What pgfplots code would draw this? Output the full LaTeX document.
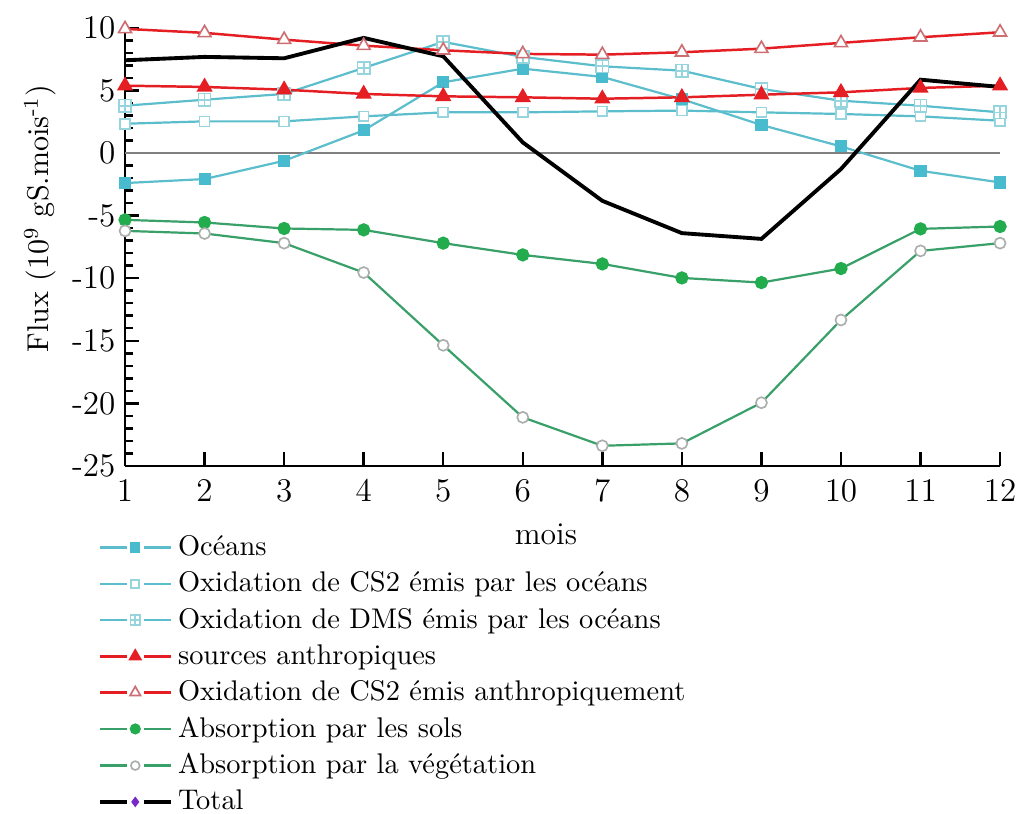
\documentclass[border=0pt]{standalone}
\usepackage{fontspec}
\usepackage{pgfplots}
\pgfplotsset{compat=1.18}
\usetikzlibrary{plotmarks}
\definecolor{ocean}{RGB}{92,190,204}
\definecolor{oceanfill}{RGB}{72,188,206}
\definecolor{oceanedge}{RGB}{150,212,222}
\definecolor{anthro}{RGB}{228,30,34}
\definecolor{anthroedge}{RGB}{205,110,115}
\definecolor{veg}{RGB}{58,160,105}
\definecolor{vegfill}{RGB}{34,172,78}
\definecolor{vegedge}{RGB}{170,175,172}
\definecolor{totdot}{RGB}{120,40,200}
\pgfdeclareplotmark{boxplus}{%
  \pgfpathrectangle{\pgfpoint{-\pgfplotmarksize}{-\pgfplotmarksize}}{\pgfpoint{2\pgfplotmarksize}{2\pgfplotmarksize}}%
  \pgfusepathqfillstroke
  \pgfpathmoveto{\pgfpoint{-\pgfplotmarksize}{0pt}}\pgfpathlineto{\pgfpoint{\pgfplotmarksize}{0pt}}%
  \pgfpathmoveto{\pgfpoint{0pt}{-\pgfplotmarksize}}\pgfpathlineto{\pgfpoint{0pt}{\pgfplotmarksize}}%
  \pgfusepathqstroke}
\begin{document}
\begin{tikzpicture}
\begin{axis}[
  scale only axis,
  width=317pt, height=158.7pt,
  xmin=1, xmax=12, ymin=-25, ymax=10,
  axis lines=left,
  axis line style={-, line width=1pt, black},
  xtick={1,2,...,12},
  ytick={-25,-20,...,10},
  yticklabels={-25,-20,-15,-10,-5,0,5,10},
  minor y tick num=4,
  tick style={black, line width=0.9pt},
  major tick length=5pt,
  minor tick length=2.8pt,
  tick align=inside,
  ticklabel style={font=\large},
  xticklabel style={yshift=-1.5pt},
  xlabel={mois},
  xlabel style={at={(axis description cs:0.481,-0.157)}, anchor=center, font=\fontsize{11.5}{13}\selectfont},
  ylabel={Flux (10\textsuperscript{9} gS.mois\textsuperscript{-1})},
  ylabel style={at={(axis description cs:-0.097,0.565)}, anchor=center, font=\fontsize{10.9}{12}\selectfont},
  clip=false,
  legend cell align=left,
  legend style={draw=none, fill=none, at={(-0.041,-0.132)}, anchor=north west, row sep=0.4pt, font=\fontsize{10.3}{12}\selectfont},
  legend image code/.code={%
    \draw[mark=none] (0cm,0cm) -- (0.34cm,0cm);
    \draw[mark=none] (0.56cm,0cm) -- (0.9cm,0cm);
    \path[every mark/.append style={scale=0.8}] plot coordinates {(0.45cm,0cm)};},
]
\coordinate (BL) at (axis cs:1,-25);
\coordinate (TR) at (axis cs:12,10);
\addplot[gray, line width=0.6pt, forget plot] coordinates {(1,0)(12,0)};
\addplot[ocean, line width=0.8pt, mark=square*, mark size=1.8pt, mark options={fill=oceanfill, draw=oceanfill}] coordinates {
(1,-2.4)(2,-2.08)(3,-0.62)(4,1.81)(5,5.65)(6,6.74)(7,6.08)(8,4.3)(9,2.24)(10,0.53)(11,-1.42)(12,-2.35)};
\addlegendentry{Océans}
\addplot[ocean, line width=0.8pt, mark=square*, mark size=1.8pt, mark options={fill=white, draw=oceanedge, line width=0.6pt}] coordinates {
(1,2.34)(2,2.53)(3,2.53)(4,2.93)(5,3.25)(6,3.25)(7,3.33)(8,3.39)(9,3.25)(10,3.12)(11,2.93)(12,2.58)};
\addlegendentry{Oxidation de CS2 émis par les océans}
\addplot[ocean, line width=0.8pt, mark=boxplus, mark size=2.2pt, mark options={fill=white, draw=oceanedge, line width=0.6pt}] coordinates {
(1,3.78)(2,4.26)(3,4.72)(4,6.8)(5,8.88)(6,7.68)(7,6.93)(8,6.58)(9,5.12)(10,4.18)(11,3.78)(12,3.25)};
\addlegendentry{Oxidation de DMS émis par les océans}
\addplot[anthro, line width=0.9pt, mark=triangle*, mark size=2.5pt, mark options={fill=anthro, draw=anthro}] coordinates {
(1,5.38)(2,5.28)(3,5.06)(4,4.72)(5,4.53)(6,4.45)(7,4.34)(8,4.45)(9,4.66)(10,4.85)(11,5.2)(12,5.38)};
\addlegendentry{sources anthropiques}
\addplot[anthro, line width=0.9pt, mark=triangle*, mark size=2.7pt, mark options={fill=white, draw=anthroedge, line width=0.6pt}] coordinates {
(1,9.92)(2,9.6)(3,9.06)(4,8.58)(5,8.21)(6,7.92)(7,7.86)(8,8.05)(9,8.34)(10,8.8)(11,9.25)(12,9.65)};
\addlegendentry{Oxidation de CS2 émis anthropiquement}
\addplot[veg, line width=0.8pt, mark=*, mark size=2.0pt, mark options={fill=vegfill, draw=vegfill}] coordinates {
(1,-5.34)(2,-5.55)(3,-6.03)(4,-6.14)(5,-7.2)(6,-8.14)(7,-8.86)(8,-9.98)(9,-10.35)(10,-9.23)(11,-6.06)(12,-5.87)};
\addlegendentry{Absorption par les sols}
\addplot[veg, line width=0.8pt, mark=*, mark size=2.0pt, mark options={fill=white, draw=vegedge, line width=0.6pt}] coordinates {
(1,-6.22)(2,-6.43)(3,-7.2)(4,-9.55)(5,-15.36)(6,-21.12)(7,-23.39)(8,-23.2)(9,-19.95)(10,-13.34)(11,-7.82)(12,-7.2)};
\addlegendentry{Absorption par la végétation}
\addplot[black, line width=1.4pt, forget plot] coordinates {
(1,7.41)(2,7.68)(3,7.57)(4,9.2)(5,7.73)(6,0.85)(7,-3.82)(8,-6.4)(9,-6.86)(10,-1.28)(11,5.86)(12,5.28)};
\addlegendimage{black, line width=1.4pt, mark=diamond*, mark size=1pt, mark options={fill=totdot, draw=totdot}}
\addlegendentry{Total}
\end{axis}
\pgfresetboundingbox
\path ([shift={(-45.3pt,-126pt)}]BL) rectangle ([shift={(6.5pt,10.1pt)}]TR);
\end{tikzpicture}
\end{document}
